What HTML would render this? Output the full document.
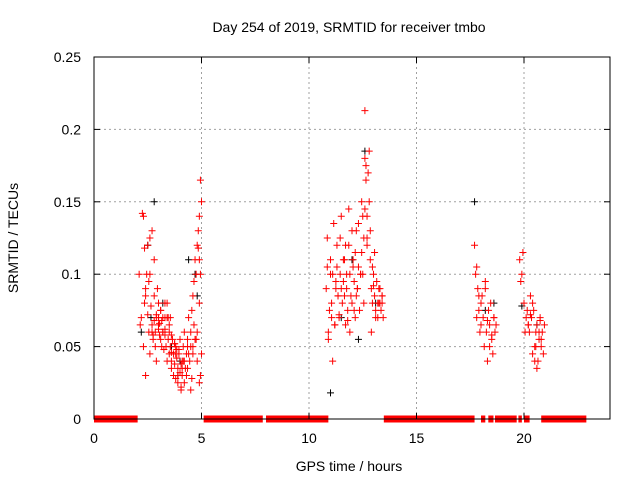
<!DOCTYPE html>
<html><head><meta charset="utf-8">
<style>
html,body{margin:0;padding:0;background:#fff;}
svg text{font-family:"Liberation Sans",sans-serif;font-size:14px;fill:#000;}
</style></head>
<body>
<svg id="chart" width="640" height="480" viewBox="0 0 640 480" xmlns="http://www.w3.org/2000/svg">
<rect x="0" y="0" width="640" height="480" fill="#fff"/>
<text x="349" y="32" text-anchor="middle">Day 254 of 2019, SRMTID for receiver tmbo</text>
<text x="349" y="471" text-anchor="middle">GPS time / hours</text>
<text transform="translate(18,238) rotate(-90)" text-anchor="middle">SRMTID / TECUs</text>
<g id="grid"></g>
<g id="marks"></g>
<rect x="94" y="57" width="516" height="362" fill="none" stroke="#000" stroke-width="1"/>
<g id="ticks"></g>
</svg>
<script>
const xTicks=[0,5,10,15,20];
const yTicks=[0,0.05,0.1,0.15,0.2,0.25];
const yTickLabels=["0","0.05","0.1","0.15","0.2","0.25"];
const zeroRanges=[[0,2.03],[5.1,7.85],[8.0,10.9],[13.48,17.7],[18.0,18.2],[18.34,18.58],[18.65,19.66],[19.74,19.9],[20.0,20.26],[20.8,22.9]];
const redX=[2.1,2.2,2.3,2.3,2.35,2.4,2.4,2.5,2.5,2.55,2.6,2.6,2.65,2.7,2.7,2.75,2.8,2.8,2.85,2.9,2.9,2.95,3.0,3.0,3.05,3.1,3.1,3.15,3.2,3.2,3.25,3.3,3.3,3.35,3.4,3.4,3.45,3.5,3.5,3.55,3.6,3.6,3.65,3.7,3.7,3.75,3.8,3.8,3.85,3.9,3.9,3.95,4.0,4.0,4.05,4.1,4.1,4.15,4.2,4.2,4.25,4.3,4.3,4.35,4.4,4.45,4.5,4.5,4.55,4.6,4.6,4.65,4.7,4.7,4.75,4.8,4.8,4.85,4.9,4.9,4.95,5.0,5.0,4.95,4.85,2.25,2.45,2.6,2.75,2.9,3.05,3.2,3.4,3.55,3.75,3.95,4.15,4.35,4.55,4.75,4.9,3.0,3.3,3.6,3.85,4.05,
2.15,2.35,2.55,2.7,2.85,3.0,3.15,3.3,3.45,3.6,3.75,3.9,4.05,4.2,4.35,4.5,4.65,4.8,4.95,2.4,2.8,3.1,3.5,3.8,4.1,4.4,4.6,4.9,
10.8,10.85,10.9,10.95,11.0,11.05,11.1,11.15,11.2,11.25,11.3,11.35,11.4,11.45,11.5,11.55,11.6,11.65,11.7,11.75,11.8,11.85,11.9,11.95,12.0,12.05,12.1,12.15,12.2,12.25,12.3,12.35,12.4,12.45,12.5,12.55,12.6,12.6,12.65,12.7,12.7,12.75,12.8,12.85,12.9,12.95,13.0,13.05,13.1,13.15,13.2,13.25,13.3,13.35,13.4,13.45,10.9,11.1,11.3,11.5,11.7,11.9,12.1,12.3,12.5,12.7,12.9,13.1,13.3,11.0,11.4,11.8,12.2,12.6,13.0,13.4,11.2,11.6,12.0,12.4,12.8,13.2,
10.85,11.05,11.25,11.45,11.65,11.85,12.05,12.25,12.45,12.65,12.85,13.05,13.25,13.4,11.35,11.75,12.15,12.55,12.95,
17.7,17.75,17.8,17.85,17.9,17.95,18.0,18.05,18.1,18.15,18.2,18.25,18.3,18.35,18.4,18.45,18.5,18.55,18.6,18.65,18.7,17.8,18.0,18.2,18.4,18.6,17.9,18.3,18.5,
19.8,19.85,19.9,19.95,20.0,20.05,20.1,20.15,20.2,20.25,20.3,20.35,20.4,20.45,20.5,20.55,20.6,20.65,20.7,20.75,20.8,20.85,20.9,20.95,20.2,20.4,20.6,20.8,20.5,20.7,20.3,20.55,20.75];
const redY=[0.1,0.07,0.14,0.05,0.118,0.09,0.03,0.072,0.12,0.06,0.1,0.045,0.078,0.13,0.065,0.055,0.11,0.085,0.06,0.07,0.04,0.09,0.08,0.065,0.058,0.075,0.055,0.05,0.07,0.06,0.048,0.08,0.062,0.05,0.04,0.07,0.055,0.045,0.06,0.05,0.035,0.04,0.055,0.03,0.045,0.038,0.05,0.028,0.042,0.035,0.025,0.048,0.032,0.055,0.02,0.04,0.03,0.05,0.025,0.06,0.035,0.045,0.03,0.055,0.07,0.04,0.06,0.05,0.075,0.085,0.045,0.095,0.11,0.055,0.1,0.12,0.06,0.13,0.08,0.14,0.1,0.15,0.045,0.165,0.118,0.142,0.1,0.125,0.058,0.072,0.066,0.06,0.08,0.07,0.052,0.045,0.04,0.035,0.028,0.055,0.025,0.07,0.07,0.058,0.048,0.038,
0.065,0.08,0.095,0.06,0.05,0.062,0.068,0.058,0.07,0.046,0.052,0.03,0.022,0.04,0.05,0.02,0.065,0.04,0.03,0.085,0.068,0.075,0.065,0.045,0.035,0.045,0.05,0.11,
0.09,0.125,0.06,0.075,0.11,0.08,0.1,0.135,0.065,0.09,0.12,0.085,0.07,0.1,0.14,0.08,0.095,0.11,0.065,0.09,0.075,0.12,0.1,0.085,0.08,0.11,0.095,0.07,0.13,0.09,0.105,0.075,0.1,0.115,0.14,0.08,0.213,0.18,0.165,0.14,0.12,0.17,0.15,0.11,0.09,0.08,0.1,0.085,0.075,0.095,0.07,0.08,0.09,0.075,0.085,0.07,0.055,0.04,0.105,0.09,0.12,0.06,0.075,0.135,0.1,0.125,0.06,0.07,0.08,0.1,0.072,0.068,0.085,0.145,0.092,0.085,0.065,0.11,0.13,0.1,0.185,0.08,
0.105,0.07,0.095,0.125,0.085,0.145,0.105,0.09,0.15,0.175,0.13,0.115,0.09,0.08,0.085,0.1,0.115,0.125,0.105,
0.12,0.1,0.07,0.09,0.075,0.06,0.065,0.085,0.07,0.05,0.095,0.06,0.04,0.075,0.065,0.08,0.055,0.045,0.07,0.06,0.065,0.105,0.08,0.09,0.05,0.07,0.085,0.068,0.058,
0.11,0.095,0.1,0.115,0.08,0.06,0.07,0.075,0.065,0.06,0.085,0.07,0.045,0.075,0.05,0.06,0.065,0.04,0.055,0.07,0.05,0.06,0.045,0.065,0.065,0.08,0.035,0.055,0.04,0.06,0.072,0.05,0.068];
const blackX=[2.2,2.5,2.8,3.2,3.6,4.0,4.4,4.8,2.65,3.9,11.0,11.5,12.0,12.6,13.1,12.3,17.7,18.2,18.6,19.9,20.6,4.7];
const blackY=[0.06,0.12,0.15,0.08,0.05,0.04,0.11,0.085,0.07,0.03,0.018,0.07,0.11,0.185,0.08,0.055,0.15,0.075,0.08,0.078,0.065,0.1];
const X0=94,X1=610,Y0=419,Y1=57,XMAX=24,YMAX=0.25;
const sx=v=>X0+(X1-X0)*v/XMAX;
const sy=v=>Y0-(Y0-Y1)*v/YMAX;
const NS="http://www.w3.org/2000/svg";
const grid=document.getElementById('grid'),marks=document.getElementById('marks'),ticks=document.getElementById('ticks');
function mk(t,a,p){const e=document.createElementNS(NS,t);for(const k in a)e.setAttribute(k,a[k]);p.appendChild(e);return e;}
xTicks.forEach((v,i)=>{
 if(i>0){const g=mk('line',{x1:sx(v),x2:sx(v),y1:Y0,y2:Y1,stroke:'#a0a0a0','stroke-dasharray':'2,3'},grid);
 
 }
 const t=mk('text',{x:sx(v),y:Y0+24,'text-anchor':'middle'},ticks);t.textContent=String(v);
 
 
 mk('line',{x1:sx(v),x2:sx(v),y1:Y0,y2:Y0-6,stroke:'#000'},ticks);
 mk('line',{x1:sx(v),x2:sx(v),y1:Y1,y2:Y1+6,stroke:'#000'},ticks);
});
yTicks.forEach((v,i)=>{
 if(i>0&&i<yTicks.length-1){const g=mk('line',{x1:X0,x2:X1,y1:sy(v),y2:sy(v),stroke:'#a0a0a0','stroke-dasharray':'2,3'},grid);
 
 }
 const t=mk('text',{x:X0-13,y:sy(v)+5,'text-anchor':'end'},ticks);t.textContent=yTickLabels[i];
 
 
 mk('line',{x1:X0,x2:X0+6,y1:sy(v),y2:sy(v),stroke:'#000'},ticks);
 mk('line',{x1:X1,x2:X1-6,y1:sy(v),y2:sy(v),stroke:'#000'},ticks);
});
function plus(x,y,c,name){const d=`M${x-3.5},${y}h7M${x},${y-3.5}v7`;const p=mk('path',{d:d,stroke:c,'stroke-width':1,fill:'none'},marks);
 
 }
blackX.forEach((v,i)=>plus(sx(v),sy(blackY[i]),'#000','black-point'));
redX.forEach((v,i)=>plus(sx(v),sy(redY[i]),'#f00','red-point'));
zeroRanges.forEach(r=>{const b=mk('rect',{x:sx(r[0]),y:Y0-3.5,width:sx(r[1])-sx(r[0]),height:7,fill:'#f00'},marks);
 
 });
</script>
</body></html>
